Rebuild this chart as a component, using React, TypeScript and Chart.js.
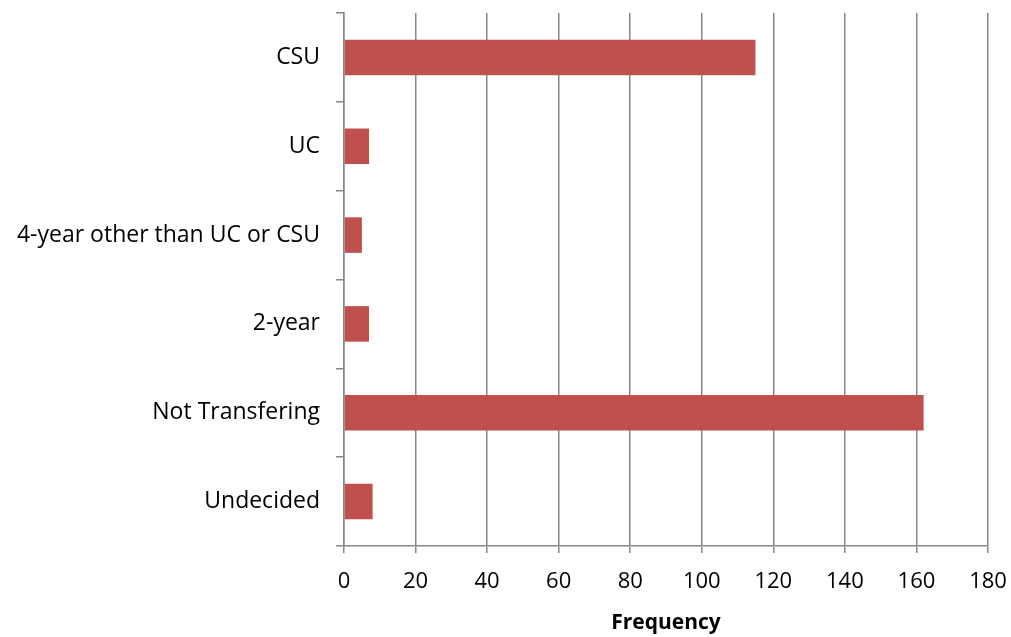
import React, { useEffect, useRef } from "react";
import { Chart, registerables } from "chart.js";

Chart.register(...registerables);

const categories = ["CSU", "UC", "4-year other than UC or CSU", "2-year", "Not Transfering", "Undecided"];
const frequencies = [115, 7, 5, 7, 162, 8];
const xTicks = [0, 20, 40, 60, 80, 100, 120, 140, 160, 180];

export default function App() {
  const ref = useRef<HTMLCanvasElement | null>(null);
  useEffect(() => {
    if (!ref.current) return;
    const font = "'Open Sans', sans-serif";
    const chart = new Chart(ref.current, {
      type: "bar",
      data: {
        labels: categories,
        datasets: [
          {
            label: "Frequency",
            data: frequencies,
            backgroundColor: "#C0504D",
            borderWidth: 0,
            barPercentage: 0.4,
            categoryPercentage: 1,
          },
        ],
      },
      options: {
        indexAxis: "y",
        responsive: false,
        animation: false,
        layout: { padding: { top: 13, right: 23, left: 0, bottom: 0 } },
        plugins: { legend: { display: false }, tooltip: { enabled: false } },
        scales: {
          x: {
            min: 0,
            max: 180,
            afterBuildTicks: (axis: any) => {
              axis.ticks = xTicks.map((v) => ({ value: v }));
            },
            afterFit: (axis: any) => {
              axis.height = 91;
              axis.paddingLeft = 0;
              axis.paddingRight = 0;
            },
            grid: {
              color: "#878787",
              lineWidth: 1.5,
              drawTicks: true,
              tickLength: 7,
            },
            border: { display: true, color: "#878787", width: 1.5 },
            ticks: { color: "#000", font: { family: font, size: 22 }, padding: 16 },
            title: {
              display: true,
              text: "Frequency",
              color: "#000",
              font: { family: font, size: 21, weight: "bold" },
              padding: { top: 2, bottom: 1 },
            },
          },
          y: {
            afterFit: (axis: any) => {
              axis.width = 344;
              axis.paddingTop = 0;
              axis.paddingBottom = 0;
            },
            grid: {
              display: true,
              offset: true,
              drawOnChartArea: false,
              drawTicks: true,
              tickLength: 8,
              color: "#878787",
              lineWidth: 1.5,
            },
            border: { display: true, color: "#878787", width: 1.5 },
            ticks: { color: "#000", font: { family: font, size: 23 }, padding: 16 },
          },
        },
      },
    });
    return () => chart.destroy();
  }, []);
  return (
    <div style={{ position: "absolute", left: 0, top: 0, width: 1011, height: 637, background: "#fff" }}>
      <canvas ref={ref} width={1011} height={637} style={{ width: 1011, height: 637 }} />
    </div>
  );
}
